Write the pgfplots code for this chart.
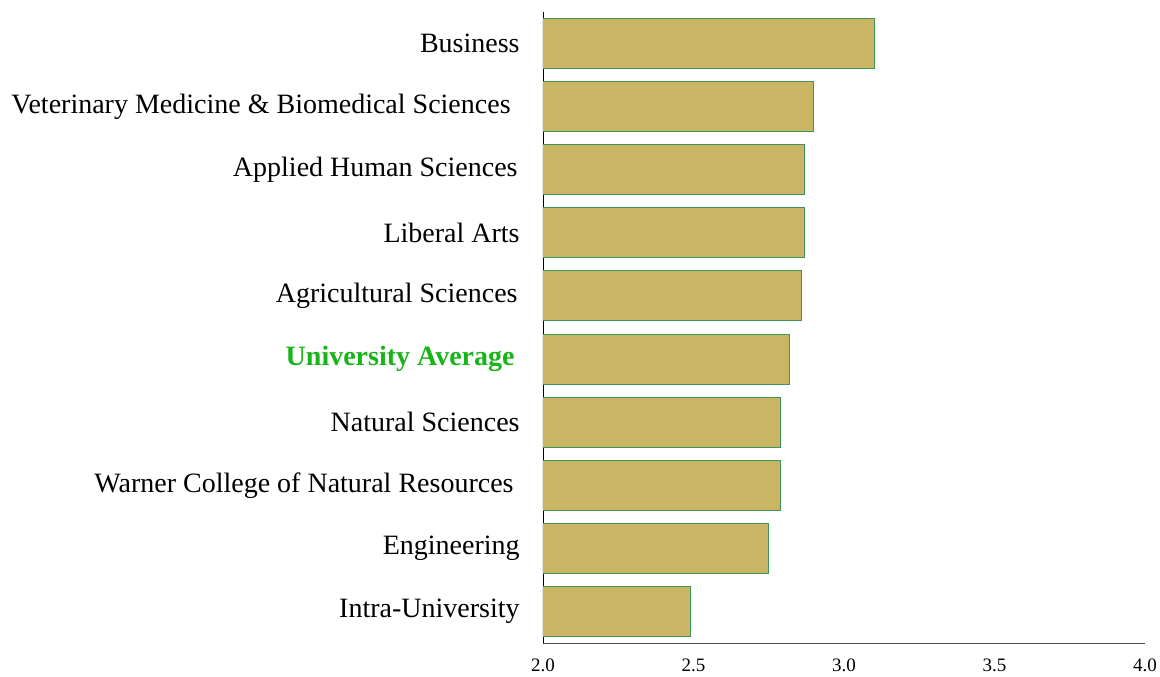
\documentclass[border=0pt]{standalone}
\usepackage{pgfplots}
\pgfplotsset{compat=1.18}
\usepackage{fontspec}
\setmainfont{Liberation Serif}
\definecolor{barfill}{RGB}{201,181,99}
\definecolor{baredge}{RGB}{60,150,90}
\definecolor{avggreen}{RGB}{25,180,25}
\pgfplotstableread{
idx value
0 2.49
1 2.75
2 2.79
3 2.79
4 2.82
5 2.86
6 2.87
7 2.87
8 2.90
9 3.10
}\scores
\newcommand{\tsp}[1]{\kern#1}
\begin{document}
\begin{tikzpicture}
\useasboundingbox (-271.5pt,-16.5pt) rectangle (308.5pt,321.5pt);
\begin{axis}[
  at={(0,0)}, anchor=south west,
  scale only axis,
  width=301pt, height=315.5pt,
  xbar, bar width=25pt,
  xmin=2, xmax=4, ymin=-0.5, ymax=9.5,
  axis lines=left,
  axis line style={-},
  x axis line style={draw=black!70},
  y axis line style={draw=black},
  major tick length=0pt,
  xtick={2,2.5,3,3.5,4},
  xticklabels={2.0,2.5,3.0,3.5,4.0},
  xticklabel style={font=\fontsize{9.5}{11}\selectfont, yshift=-4.5pt},
  ytick={0,...,9},
  yticklabels={Intra-University, Engineering, Warner College of Natural Resources\tsp{3pt}, Natural Sciences, {\textcolor{avggreen}{\textbf{University Average}}\tsp{2.5pt}}, Agricultural Sciences\tsp{1pt}, Liberal Arts, Applied Human Sciences\tsp{1pt}, Veterinary Medicine \& Biomedical Sciences\tsp{4.5pt}, Business},
  yticklabel style={font=\fontsize{14}{16}\selectfont, inner sep=2pt, anchor=east, xshift=-9.5pt},
  /pgf/number format/assume math mode=true,
]
\addplot[fill=barfill, draw=baredge, line width=0.5pt] table[x=value, y=idx] {\scores};
\end{axis}
\end{tikzpicture}
\end{document}
